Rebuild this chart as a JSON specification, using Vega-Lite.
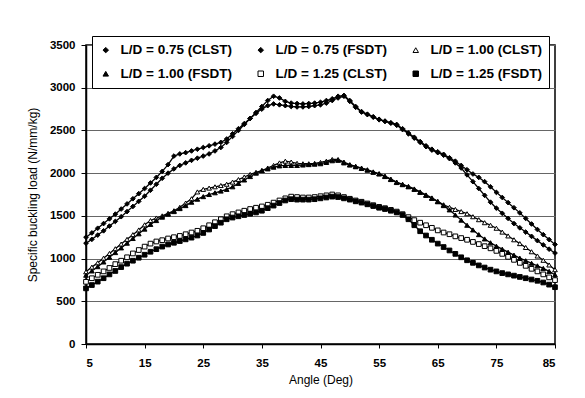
{
  "$schema": "https://vega.github.io/schema/vega-lite/v6.json",
  "width": 469,
  "height": 299,
  "autosize": "none",
  "padding": {"left": 86, "top": 45, "right": 30, "bottom": 54},
  "background": "white",
  "datasets": {
    "pts": [
      {"angle":5,"series":"L/D = 0.75 (CLST)","load":1250},{"angle":6,"series":"L/D = 0.75 (CLST)","load":1300},{"angle":7,"series":"L/D = 0.75 (CLST)","load":1355},{"angle":8,"series":"L/D = 0.75 (CLST)","load":1410},{"angle":9,"series":"L/D = 0.75 (CLST)","load":1465},{"angle":10,"series":"L/D = 0.75 (CLST)","load":1520},{"angle":11,"series":"L/D = 0.75 (CLST)","load":1580},{"angle":12,"series":"L/D = 0.75 (CLST)","load":1640},{"angle":13,"series":"L/D = 0.75 (CLST)","load":1700},{"angle":14,"series":"L/D = 0.75 (CLST)","load":1760},{"angle":15,"series":"L/D = 0.75 (CLST)","load":1820},{"angle":16,"series":"L/D = 0.75 (CLST)","load":1885},{"angle":17,"series":"L/D = 0.75 (CLST)","load":1950},{"angle":18,"series":"L/D = 0.75 (CLST)","load":2020},{"angle":19,"series":"L/D = 0.75 (CLST)","load":2100},{"angle":20,"series":"L/D = 0.75 (CLST)","load":2200},{"angle":21,"series":"L/D = 0.75 (CLST)","load":2225},{"angle":22,"series":"L/D = 0.75 (CLST)","load":2240},{"angle":23,"series":"L/D = 0.75 (CLST)","load":2260},{"angle":24,"series":"L/D = 0.75 (CLST)","load":2280},{"angle":25,"series":"L/D = 0.75 (CLST)","load":2300},{"angle":26,"series":"L/D = 0.75 (CLST)","load":2320},{"angle":27,"series":"L/D = 0.75 (CLST)","load":2340},{"angle":28,"series":"L/D = 0.75 (CLST)","load":2360},{"angle":29,"series":"L/D = 0.75 (CLST)","load":2400},{"angle":30,"series":"L/D = 0.75 (CLST)","load":2460},{"angle":31,"series":"L/D = 0.75 (CLST)","load":2520},{"angle":32,"series":"L/D = 0.75 (CLST)","load":2580},{"angle":33,"series":"L/D = 0.75 (CLST)","load":2640},{"angle":34,"series":"L/D = 0.75 (CLST)","load":2710},{"angle":35,"series":"L/D = 0.75 (CLST)","load":2780},{"angle":36,"series":"L/D = 0.75 (CLST)","load":2850},{"angle":37,"series":"L/D = 0.75 (CLST)","load":2900},{"angle":38,"series":"L/D = 0.75 (CLST)","load":2880},{"angle":39,"series":"L/D = 0.75 (CLST)","load":2840},{"angle":40,"series":"L/D = 0.75 (CLST)","load":2820},{"angle":41,"series":"L/D = 0.75 (CLST)","load":2815},{"angle":42,"series":"L/D = 0.75 (CLST)","load":2810},{"angle":43,"series":"L/D = 0.75 (CLST)","load":2815},{"angle":44,"series":"L/D = 0.75 (CLST)","load":2820},{"angle":45,"series":"L/D = 0.75 (CLST)","load":2830},{"angle":46,"series":"L/D = 0.75 (CLST)","load":2850},{"angle":47,"series":"L/D = 0.75 (CLST)","load":2870},{"angle":48,"series":"L/D = 0.75 (CLST)","load":2900},{"angle":49,"series":"L/D = 0.75 (CLST)","load":2910},{"angle":50,"series":"L/D = 0.75 (CLST)","load":2850},{"angle":51,"series":"L/D = 0.75 (CLST)","load":2780},{"angle":52,"series":"L/D = 0.75 (CLST)","load":2720},{"angle":53,"series":"L/D = 0.75 (CLST)","load":2690},{"angle":54,"series":"L/D = 0.75 (CLST)","load":2660},{"angle":55,"series":"L/D = 0.75 (CLST)","load":2630},{"angle":56,"series":"L/D = 0.75 (CLST)","load":2610},{"angle":57,"series":"L/D = 0.75 (CLST)","load":2590},{"angle":58,"series":"L/D = 0.75 (CLST)","load":2570},{"angle":59,"series":"L/D = 0.75 (CLST)","load":2520},{"angle":60,"series":"L/D = 0.75 (CLST)","load":2470},{"angle":61,"series":"L/D = 0.75 (CLST)","load":2420},{"angle":62,"series":"L/D = 0.75 (CLST)","load":2370},{"angle":63,"series":"L/D = 0.75 (CLST)","load":2320},{"angle":64,"series":"L/D = 0.75 (CLST)","load":2280},{"angle":65,"series":"L/D = 0.75 (CLST)","load":2250},{"angle":66,"series":"L/D = 0.75 (CLST)","load":2220},{"angle":67,"series":"L/D = 0.75 (CLST)","load":2180},{"angle":68,"series":"L/D = 0.75 (CLST)","load":2140},{"angle":69,"series":"L/D = 0.75 (CLST)","load":2090},{"angle":70,"series":"L/D = 0.75 (CLST)","load":2040},{"angle":71,"series":"L/D = 0.75 (CLST)","load":1990},{"angle":72,"series":"L/D = 0.75 (CLST)","load":1950},{"angle":73,"series":"L/D = 0.75 (CLST)","load":1900},{"angle":74,"series":"L/D = 0.75 (CLST)","load":1840},{"angle":75,"series":"L/D = 0.75 (CLST)","load":1775},{"angle":76,"series":"L/D = 0.75 (CLST)","load":1715},{"angle":77,"series":"L/D = 0.75 (CLST)","load":1655},{"angle":78,"series":"L/D = 0.75 (CLST)","load":1595},{"angle":79,"series":"L/D = 0.75 (CLST)","load":1535},{"angle":80,"series":"L/D = 0.75 (CLST)","load":1470},{"angle":81,"series":"L/D = 0.75 (CLST)","load":1405},{"angle":82,"series":"L/D = 0.75 (CLST)","load":1340},{"angle":83,"series":"L/D = 0.75 (CLST)","load":1280},{"angle":84,"series":"L/D = 0.75 (CLST)","load":1222},{"angle":85,"series":"L/D = 0.75 (CLST)","load":1166},

      {"angle":5,"series":"L/D = 0.75 (FSDT)","load":1180},{"angle":6,"series":"L/D = 0.75 (FSDT)","load":1225},{"angle":7,"series":"L/D = 0.75 (FSDT)","load":1275},{"angle":8,"series":"L/D = 0.75 (FSDT)","load":1325},{"angle":9,"series":"L/D = 0.75 (FSDT)","load":1380},{"angle":10,"series":"L/D = 0.75 (FSDT)","load":1435},{"angle":11,"series":"L/D = 0.75 (FSDT)","load":1490},{"angle":12,"series":"L/D = 0.75 (FSDT)","load":1550},{"angle":13,"series":"L/D = 0.75 (FSDT)","load":1610},{"angle":14,"series":"L/D = 0.75 (FSDT)","load":1670},{"angle":15,"series":"L/D = 0.75 (FSDT)","load":1730},{"angle":16,"series":"L/D = 0.75 (FSDT)","load":1800},{"angle":17,"series":"L/D = 0.75 (FSDT)","load":1870},{"angle":18,"series":"L/D = 0.75 (FSDT)","load":1940},{"angle":19,"series":"L/D = 0.75 (FSDT)","load":2000},{"angle":20,"series":"L/D = 0.75 (FSDT)","load":2050},{"angle":21,"series":"L/D = 0.75 (FSDT)","load":2090},{"angle":22,"series":"L/D = 0.75 (FSDT)","load":2120},{"angle":23,"series":"L/D = 0.75 (FSDT)","load":2150},{"angle":24,"series":"L/D = 0.75 (FSDT)","load":2175},{"angle":25,"series":"L/D = 0.75 (FSDT)","load":2200},{"angle":26,"series":"L/D = 0.75 (FSDT)","load":2225},{"angle":27,"series":"L/D = 0.75 (FSDT)","load":2260},{"angle":28,"series":"L/D = 0.75 (FSDT)","load":2300},{"angle":29,"series":"L/D = 0.75 (FSDT)","load":2360},{"angle":30,"series":"L/D = 0.75 (FSDT)","load":2430},{"angle":31,"series":"L/D = 0.75 (FSDT)","load":2500},{"angle":32,"series":"L/D = 0.75 (FSDT)","load":2570},{"angle":33,"series":"L/D = 0.75 (FSDT)","load":2640},{"angle":34,"series":"L/D = 0.75 (FSDT)","load":2700},{"angle":35,"series":"L/D = 0.75 (FSDT)","load":2750},{"angle":36,"series":"L/D = 0.75 (FSDT)","load":2790},{"angle":37,"series":"L/D = 0.75 (FSDT)","load":2810},{"angle":38,"series":"L/D = 0.75 (FSDT)","load":2800},{"angle":39,"series":"L/D = 0.75 (FSDT)","load":2790},{"angle":40,"series":"L/D = 0.75 (FSDT)","load":2780},{"angle":41,"series":"L/D = 0.75 (FSDT)","load":2775},{"angle":42,"series":"L/D = 0.75 (FSDT)","load":2775},{"angle":43,"series":"L/D = 0.75 (FSDT)","load":2780},{"angle":44,"series":"L/D = 0.75 (FSDT)","load":2790},{"angle":45,"series":"L/D = 0.75 (FSDT)","load":2800},{"angle":46,"series":"L/D = 0.75 (FSDT)","load":2820},{"angle":47,"series":"L/D = 0.75 (FSDT)","load":2850},{"angle":48,"series":"L/D = 0.75 (FSDT)","load":2880},{"angle":49,"series":"L/D = 0.75 (FSDT)","load":2900},{"angle":50,"series":"L/D = 0.75 (FSDT)","load":2840},{"angle":51,"series":"L/D = 0.75 (FSDT)","load":2770},{"angle":52,"series":"L/D = 0.75 (FSDT)","load":2715},{"angle":53,"series":"L/D = 0.75 (FSDT)","load":2685},{"angle":54,"series":"L/D = 0.75 (FSDT)","load":2655},{"angle":55,"series":"L/D = 0.75 (FSDT)","load":2625},{"angle":56,"series":"L/D = 0.75 (FSDT)","load":2605},{"angle":57,"series":"L/D = 0.75 (FSDT)","load":2585},{"angle":58,"series":"L/D = 0.75 (FSDT)","load":2560},{"angle":59,"series":"L/D = 0.75 (FSDT)","load":2510},{"angle":60,"series":"L/D = 0.75 (FSDT)","load":2460},{"angle":61,"series":"L/D = 0.75 (FSDT)","load":2410},{"angle":62,"series":"L/D = 0.75 (FSDT)","load":2360},{"angle":63,"series":"L/D = 0.75 (FSDT)","load":2310},{"angle":64,"series":"L/D = 0.75 (FSDT)","load":2270},{"angle":65,"series":"L/D = 0.75 (FSDT)","load":2240},{"angle":66,"series":"L/D = 0.75 (FSDT)","load":2210},{"angle":67,"series":"L/D = 0.75 (FSDT)","load":2170},{"angle":68,"series":"L/D = 0.75 (FSDT)","load":2120},{"angle":69,"series":"L/D = 0.75 (FSDT)","load":2060},{"angle":70,"series":"L/D = 0.75 (FSDT)","load":1980},{"angle":71,"series":"L/D = 0.75 (FSDT)","load":1900},{"angle":72,"series":"L/D = 0.75 (FSDT)","load":1820},{"angle":73,"series":"L/D = 0.75 (FSDT)","load":1740},{"angle":74,"series":"L/D = 0.75 (FSDT)","load":1660},{"angle":75,"series":"L/D = 0.75 (FSDT)","load":1590},{"angle":76,"series":"L/D = 0.75 (FSDT)","load":1530},{"angle":77,"series":"L/D = 0.75 (FSDT)","load":1470},{"angle":78,"series":"L/D = 0.75 (FSDT)","load":1410},{"angle":79,"series":"L/D = 0.75 (FSDT)","load":1360},{"angle":80,"series":"L/D = 0.75 (FSDT)","load":1310},{"angle":81,"series":"L/D = 0.75 (FSDT)","load":1260},{"angle":82,"series":"L/D = 0.75 (FSDT)","load":1210},{"angle":83,"series":"L/D = 0.75 (FSDT)","load":1160},{"angle":84,"series":"L/D = 0.75 (FSDT)","load":1110},{"angle":85,"series":"L/D = 0.75 (FSDT)","load":1065},

      {"angle":5,"series":"L/D = 1.00 (CLST)","load":845},{"angle":6,"series":"L/D = 1.00 (CLST)","load":900},{"angle":7,"series":"L/D = 1.00 (CLST)","load":950},{"angle":8,"series":"L/D = 1.00 (CLST)","load":1005},{"angle":9,"series":"L/D = 1.00 (CLST)","load":1060},{"angle":10,"series":"L/D = 1.00 (CLST)","load":1115},{"angle":11,"series":"L/D = 1.00 (CLST)","load":1170},{"angle":12,"series":"L/D = 1.00 (CLST)","load":1225},{"angle":13,"series":"L/D = 1.00 (CLST)","load":1280},{"angle":14,"series":"L/D = 1.00 (CLST)","load":1335},{"angle":15,"series":"L/D = 1.00 (CLST)","load":1395},{"angle":16,"series":"L/D = 1.00 (CLST)","load":1445},{"angle":17,"series":"L/D = 1.00 (CLST)","load":1475},{"angle":18,"series":"L/D = 1.00 (CLST)","load":1500},{"angle":19,"series":"L/D = 1.00 (CLST)","load":1530},{"angle":20,"series":"L/D = 1.00 (CLST)","load":1560},{"angle":21,"series":"L/D = 1.00 (CLST)","load":1600},{"angle":22,"series":"L/D = 1.00 (CLST)","load":1650},{"angle":23,"series":"L/D = 1.00 (CLST)","load":1700},{"angle":24,"series":"L/D = 1.00 (CLST)","load":1780},{"angle":25,"series":"L/D = 1.00 (CLST)","load":1810},{"angle":26,"series":"L/D = 1.00 (CLST)","load":1825},{"angle":27,"series":"L/D = 1.00 (CLST)","load":1840},{"angle":28,"series":"L/D = 1.00 (CLST)","load":1855},{"angle":29,"series":"L/D = 1.00 (CLST)","load":1870},{"angle":30,"series":"L/D = 1.00 (CLST)","load":1895},{"angle":31,"series":"L/D = 1.00 (CLST)","load":1925},{"angle":32,"series":"L/D = 1.00 (CLST)","load":1955},{"angle":33,"series":"L/D = 1.00 (CLST)","load":1985},{"angle":34,"series":"L/D = 1.00 (CLST)","load":2010},{"angle":35,"series":"L/D = 1.00 (CLST)","load":2030},{"angle":36,"series":"L/D = 1.00 (CLST)","load":2060},{"angle":37,"series":"L/D = 1.00 (CLST)","load":2090},{"angle":38,"series":"L/D = 1.00 (CLST)","load":2120},{"angle":39,"series":"L/D = 1.00 (CLST)","load":2140},{"angle":40,"series":"L/D = 1.00 (CLST)","load":2130},{"angle":41,"series":"L/D = 1.00 (CLST)","load":2115},{"angle":42,"series":"L/D = 1.00 (CLST)","load":2110},{"angle":43,"series":"L/D = 1.00 (CLST)","load":2110},{"angle":44,"series":"L/D = 1.00 (CLST)","load":2115},{"angle":45,"series":"L/D = 1.00 (CLST)","load":2125},{"angle":46,"series":"L/D = 1.00 (CLST)","load":2140},{"angle":47,"series":"L/D = 1.00 (CLST)","load":2160},{"angle":48,"series":"L/D = 1.00 (CLST)","load":2160},{"angle":49,"series":"L/D = 1.00 (CLST)","load":2130},{"angle":50,"series":"L/D = 1.00 (CLST)","load":2100},{"angle":51,"series":"L/D = 1.00 (CLST)","load":2080},{"angle":52,"series":"L/D = 1.00 (CLST)","load":2060},{"angle":53,"series":"L/D = 1.00 (CLST)","load":2040},{"angle":54,"series":"L/D = 1.00 (CLST)","load":2015},{"angle":55,"series":"L/D = 1.00 (CLST)","load":1995},{"angle":56,"series":"L/D = 1.00 (CLST)","load":1965},{"angle":57,"series":"L/D = 1.00 (CLST)","load":1930},{"angle":58,"series":"L/D = 1.00 (CLST)","load":1895},{"angle":59,"series":"L/D = 1.00 (CLST)","load":1870},{"angle":60,"series":"L/D = 1.00 (CLST)","load":1845},{"angle":61,"series":"L/D = 1.00 (CLST)","load":1815},{"angle":62,"series":"L/D = 1.00 (CLST)","load":1780},{"angle":63,"series":"L/D = 1.00 (CLST)","load":1745},{"angle":64,"series":"L/D = 1.00 (CLST)","load":1710},{"angle":65,"series":"L/D = 1.00 (CLST)","load":1670},{"angle":66,"series":"L/D = 1.00 (CLST)","load":1630},{"angle":67,"series":"L/D = 1.00 (CLST)","load":1600},{"angle":68,"series":"L/D = 1.00 (CLST)","load":1575},{"angle":69,"series":"L/D = 1.00 (CLST)","load":1550},{"angle":70,"series":"L/D = 1.00 (CLST)","load":1525},{"angle":71,"series":"L/D = 1.00 (CLST)","load":1490},{"angle":72,"series":"L/D = 1.00 (CLST)","load":1455},{"angle":73,"series":"L/D = 1.00 (CLST)","load":1420},{"angle":74,"series":"L/D = 1.00 (CLST)","load":1390},{"angle":75,"series":"L/D = 1.00 (CLST)","load":1355},{"angle":76,"series":"L/D = 1.00 (CLST)","load":1310},{"angle":77,"series":"L/D = 1.00 (CLST)","load":1265},{"angle":78,"series":"L/D = 1.00 (CLST)","load":1220},{"angle":79,"series":"L/D = 1.00 (CLST)","load":1175},{"angle":80,"series":"L/D = 1.00 (CLST)","load":1130},{"angle":81,"series":"L/D = 1.00 (CLST)","load":1080},{"angle":82,"series":"L/D = 1.00 (CLST)","load":1030},{"angle":83,"series":"L/D = 1.00 (CLST)","load":980},{"angle":84,"series":"L/D = 1.00 (CLST)","load":925},{"angle":85,"series":"L/D = 1.00 (CLST)","load":870},

      {"angle":5,"series":"L/D = 1.00 (FSDT)","load":805},{"angle":6,"series":"L/D = 1.00 (FSDT)","load":855},{"angle":7,"series":"L/D = 1.00 (FSDT)","load":905},{"angle":8,"series":"L/D = 1.00 (FSDT)","load":960},{"angle":9,"series":"L/D = 1.00 (FSDT)","load":1015},{"angle":10,"series":"L/D = 1.00 (FSDT)","load":1070},{"angle":11,"series":"L/D = 1.00 (FSDT)","load":1125},{"angle":12,"series":"L/D = 1.00 (FSDT)","load":1180},{"angle":13,"series":"L/D = 1.00 (FSDT)","load":1235},{"angle":14,"series":"L/D = 1.00 (FSDT)","load":1290},{"angle":15,"series":"L/D = 1.00 (FSDT)","load":1345},{"angle":16,"series":"L/D = 1.00 (FSDT)","load":1400},{"angle":17,"series":"L/D = 1.00 (FSDT)","load":1445},{"angle":18,"series":"L/D = 1.00 (FSDT)","load":1485},{"angle":19,"series":"L/D = 1.00 (FSDT)","load":1520},{"angle":20,"series":"L/D = 1.00 (FSDT)","load":1550},{"angle":21,"series":"L/D = 1.00 (FSDT)","load":1585},{"angle":22,"series":"L/D = 1.00 (FSDT)","load":1620},{"angle":23,"series":"L/D = 1.00 (FSDT)","load":1660},{"angle":24,"series":"L/D = 1.00 (FSDT)","load":1695},{"angle":25,"series":"L/D = 1.00 (FSDT)","load":1725},{"angle":26,"series":"L/D = 1.00 (FSDT)","load":1750},{"angle":27,"series":"L/D = 1.00 (FSDT)","load":1770},{"angle":28,"series":"L/D = 1.00 (FSDT)","load":1790},{"angle":29,"series":"L/D = 1.00 (FSDT)","load":1810},{"angle":30,"series":"L/D = 1.00 (FSDT)","load":1840},{"angle":31,"series":"L/D = 1.00 (FSDT)","load":1880},{"angle":32,"series":"L/D = 1.00 (FSDT)","load":1920},{"angle":33,"series":"L/D = 1.00 (FSDT)","load":1960},{"angle":34,"series":"L/D = 1.00 (FSDT)","load":2000},{"angle":35,"series":"L/D = 1.00 (FSDT)","load":2030},{"angle":36,"series":"L/D = 1.00 (FSDT)","load":2050},{"angle":37,"series":"L/D = 1.00 (FSDT)","load":2070},{"angle":38,"series":"L/D = 1.00 (FSDT)","load":2085},{"angle":39,"series":"L/D = 1.00 (FSDT)","load":2090},{"angle":40,"series":"L/D = 1.00 (FSDT)","load":2090},{"angle":41,"series":"L/D = 1.00 (FSDT)","load":2090},{"angle":42,"series":"L/D = 1.00 (FSDT)","load":2095},{"angle":43,"series":"L/D = 1.00 (FSDT)","load":2100},{"angle":44,"series":"L/D = 1.00 (FSDT)","load":2105},{"angle":45,"series":"L/D = 1.00 (FSDT)","load":2110},{"angle":46,"series":"L/D = 1.00 (FSDT)","load":2125},{"angle":47,"series":"L/D = 1.00 (FSDT)","load":2145},{"angle":48,"series":"L/D = 1.00 (FSDT)","load":2150},{"angle":49,"series":"L/D = 1.00 (FSDT)","load":2120},{"angle":50,"series":"L/D = 1.00 (FSDT)","load":2095},{"angle":51,"series":"L/D = 1.00 (FSDT)","load":2075},{"angle":52,"series":"L/D = 1.00 (FSDT)","load":2055},{"angle":53,"series":"L/D = 1.00 (FSDT)","load":2035},{"angle":54,"series":"L/D = 1.00 (FSDT)","load":2010},{"angle":55,"series":"L/D = 1.00 (FSDT)","load":1990},{"angle":56,"series":"L/D = 1.00 (FSDT)","load":1960},{"angle":57,"series":"L/D = 1.00 (FSDT)","load":1925},{"angle":58,"series":"L/D = 1.00 (FSDT)","load":1890},{"angle":59,"series":"L/D = 1.00 (FSDT)","load":1865},{"angle":60,"series":"L/D = 1.00 (FSDT)","load":1840},{"angle":61,"series":"L/D = 1.00 (FSDT)","load":1810},{"angle":62,"series":"L/D = 1.00 (FSDT)","load":1775},{"angle":63,"series":"L/D = 1.00 (FSDT)","load":1740},{"angle":64,"series":"L/D = 1.00 (FSDT)","load":1705},{"angle":65,"series":"L/D = 1.00 (FSDT)","load":1665},{"angle":66,"series":"L/D = 1.00 (FSDT)","load":1620},{"angle":67,"series":"L/D = 1.00 (FSDT)","load":1570},{"angle":68,"series":"L/D = 1.00 (FSDT)","load":1510},{"angle":69,"series":"L/D = 1.00 (FSDT)","load":1450},{"angle":70,"series":"L/D = 1.00 (FSDT)","load":1390},{"angle":71,"series":"L/D = 1.00 (FSDT)","load":1335},{"angle":72,"series":"L/D = 1.00 (FSDT)","load":1280},{"angle":73,"series":"L/D = 1.00 (FSDT)","load":1230},{"angle":74,"series":"L/D = 1.00 (FSDT)","load":1185},{"angle":75,"series":"L/D = 1.00 (FSDT)","load":1145},{"angle":76,"series":"L/D = 1.00 (FSDT)","load":1110},{"angle":77,"series":"L/D = 1.00 (FSDT)","load":1075},{"angle":78,"series":"L/D = 1.00 (FSDT)","load":1040},{"angle":79,"series":"L/D = 1.00 (FSDT)","load":1005},{"angle":80,"series":"L/D = 1.00 (FSDT)","load":975},{"angle":81,"series":"L/D = 1.00 (FSDT)","load":945},{"angle":82,"series":"L/D = 1.00 (FSDT)","load":915},{"angle":83,"series":"L/D = 1.00 (FSDT)","load":885},{"angle":84,"series":"L/D = 1.00 (FSDT)","load":850},{"angle":85,"series":"L/D = 1.00 (FSDT)","load":810},

      {"angle":5,"series":"L/D = 1.25 (CLST)","load":728},{"angle":6,"series":"L/D = 1.25 (CLST)","load":770},{"angle":7,"series":"L/D = 1.25 (CLST)","load":810},{"angle":8,"series":"L/D = 1.25 (CLST)","load":850},{"angle":9,"series":"L/D = 1.25 (CLST)","load":890},{"angle":10,"series":"L/D = 1.25 (CLST)","load":935},{"angle":11,"series":"L/D = 1.25 (CLST)","load":975},{"angle":12,"series":"L/D = 1.25 (CLST)","load":1015},{"angle":13,"series":"L/D = 1.25 (CLST)","load":1060},{"angle":14,"series":"L/D = 1.25 (CLST)","load":1100},{"angle":15,"series":"L/D = 1.25 (CLST)","load":1140},{"angle":16,"series":"L/D = 1.25 (CLST)","load":1175},{"angle":17,"series":"L/D = 1.25 (CLST)","load":1200},{"angle":18,"series":"L/D = 1.25 (CLST)","load":1215},{"angle":19,"series":"L/D = 1.25 (CLST)","load":1235},{"angle":20,"series":"L/D = 1.25 (CLST)","load":1250},{"angle":21,"series":"L/D = 1.25 (CLST)","load":1265},{"angle":22,"series":"L/D = 1.25 (CLST)","load":1285},{"angle":23,"series":"L/D = 1.25 (CLST)","load":1305},{"angle":24,"series":"L/D = 1.25 (CLST)","load":1325},{"angle":25,"series":"L/D = 1.25 (CLST)","load":1355},{"angle":26,"series":"L/D = 1.25 (CLST)","load":1390},{"angle":27,"series":"L/D = 1.25 (CLST)","load":1425},{"angle":28,"series":"L/D = 1.25 (CLST)","load":1460},{"angle":29,"series":"L/D = 1.25 (CLST)","load":1495},{"angle":30,"series":"L/D = 1.25 (CLST)","load":1520},{"angle":31,"series":"L/D = 1.25 (CLST)","load":1540},{"angle":32,"series":"L/D = 1.25 (CLST)","load":1560},{"angle":33,"series":"L/D = 1.25 (CLST)","load":1580},{"angle":34,"series":"L/D = 1.25 (CLST)","load":1595},{"angle":35,"series":"L/D = 1.25 (CLST)","load":1610},{"angle":36,"series":"L/D = 1.25 (CLST)","load":1630},{"angle":37,"series":"L/D = 1.25 (CLST)","load":1655},{"angle":38,"series":"L/D = 1.25 (CLST)","load":1680},{"angle":39,"series":"L/D = 1.25 (CLST)","load":1705},{"angle":40,"series":"L/D = 1.25 (CLST)","load":1725},{"angle":41,"series":"L/D = 1.25 (CLST)","load":1720},{"angle":42,"series":"L/D = 1.25 (CLST)","load":1715},{"angle":43,"series":"L/D = 1.25 (CLST)","load":1715},{"angle":44,"series":"L/D = 1.25 (CLST)","load":1720},{"angle":45,"series":"L/D = 1.25 (CLST)","load":1730},{"angle":46,"series":"L/D = 1.25 (CLST)","load":1740},{"angle":47,"series":"L/D = 1.25 (CLST)","load":1750},{"angle":48,"series":"L/D = 1.25 (CLST)","load":1740},{"angle":49,"series":"L/D = 1.25 (CLST)","load":1720},{"angle":50,"series":"L/D = 1.25 (CLST)","load":1700},{"angle":51,"series":"L/D = 1.25 (CLST)","load":1680},{"angle":52,"series":"L/D = 1.25 (CLST)","load":1665},{"angle":53,"series":"L/D = 1.25 (CLST)","load":1645},{"angle":54,"series":"L/D = 1.25 (CLST)","load":1625},{"angle":55,"series":"L/D = 1.25 (CLST)","load":1605},{"angle":56,"series":"L/D = 1.25 (CLST)","load":1590},{"angle":57,"series":"L/D = 1.25 (CLST)","load":1570},{"angle":58,"series":"L/D = 1.25 (CLST)","load":1550},{"angle":59,"series":"L/D = 1.25 (CLST)","load":1520},{"angle":60,"series":"L/D = 1.25 (CLST)","load":1485},{"angle":61,"series":"L/D = 1.25 (CLST)","load":1450},{"angle":62,"series":"L/D = 1.25 (CLST)","load":1420},{"angle":63,"series":"L/D = 1.25 (CLST)","load":1390},{"angle":64,"series":"L/D = 1.25 (CLST)","load":1360},{"angle":65,"series":"L/D = 1.25 (CLST)","load":1330},{"angle":66,"series":"L/D = 1.25 (CLST)","load":1305},{"angle":67,"series":"L/D = 1.25 (CLST)","load":1285},{"angle":68,"series":"L/D = 1.25 (CLST)","load":1260},{"angle":69,"series":"L/D = 1.25 (CLST)","load":1240},{"angle":70,"series":"L/D = 1.25 (CLST)","load":1220},{"angle":71,"series":"L/D = 1.25 (CLST)","load":1195},{"angle":72,"series":"L/D = 1.25 (CLST)","load":1170},{"angle":73,"series":"L/D = 1.25 (CLST)","load":1145},{"angle":74,"series":"L/D = 1.25 (CLST)","load":1120},{"angle":75,"series":"L/D = 1.25 (CLST)","load":1090},{"angle":76,"series":"L/D = 1.25 (CLST)","load":1055},{"angle":77,"series":"L/D = 1.25 (CLST)","load":1020},{"angle":78,"series":"L/D = 1.25 (CLST)","load":985},{"angle":79,"series":"L/D = 1.25 (CLST)","load":950},{"angle":80,"series":"L/D = 1.25 (CLST)","load":915},{"angle":81,"series":"L/D = 1.25 (CLST)","load":880},{"angle":82,"series":"L/D = 1.25 (CLST)","load":850},{"angle":83,"series":"L/D = 1.25 (CLST)","load":815},{"angle":84,"series":"L/D = 1.25 (CLST)","load":780},{"angle":85,"series":"L/D = 1.25 (CLST)","load":748},

      {"angle":5,"series":"L/D = 1.25 (FSDT)","load":651},{"angle":6,"series":"L/D = 1.25 (FSDT)","load":690},{"angle":7,"series":"L/D = 1.25 (FSDT)","load":730},{"angle":8,"series":"L/D = 1.25 (FSDT)","load":770},{"angle":9,"series":"L/D = 1.25 (FSDT)","load":815},{"angle":10,"series":"L/D = 1.25 (FSDT)","load":855},{"angle":11,"series":"L/D = 1.25 (FSDT)","load":900},{"angle":12,"series":"L/D = 1.25 (FSDT)","load":940},{"angle":13,"series":"L/D = 1.25 (FSDT)","load":975},{"angle":14,"series":"L/D = 1.25 (FSDT)","load":1010},{"angle":15,"series":"L/D = 1.25 (FSDT)","load":1045},{"angle":16,"series":"L/D = 1.25 (FSDT)","load":1080},{"angle":17,"series":"L/D = 1.25 (FSDT)","load":1110},{"angle":18,"series":"L/D = 1.25 (FSDT)","load":1140},{"angle":19,"series":"L/D = 1.25 (FSDT)","load":1165},{"angle":20,"series":"L/D = 1.25 (FSDT)","load":1185},{"angle":21,"series":"L/D = 1.25 (FSDT)","load":1205},{"angle":22,"series":"L/D = 1.25 (FSDT)","load":1225},{"angle":23,"series":"L/D = 1.25 (FSDT)","load":1245},{"angle":24,"series":"L/D = 1.25 (FSDT)","load":1270},{"angle":25,"series":"L/D = 1.25 (FSDT)","load":1300},{"angle":26,"series":"L/D = 1.25 (FSDT)","load":1340},{"angle":27,"series":"L/D = 1.25 (FSDT)","load":1380},{"angle":28,"series":"L/D = 1.25 (FSDT)","load":1420},{"angle":29,"series":"L/D = 1.25 (FSDT)","load":1460},{"angle":30,"series":"L/D = 1.25 (FSDT)","load":1480},{"angle":31,"series":"L/D = 1.25 (FSDT)","load":1495},{"angle":32,"series":"L/D = 1.25 (FSDT)","load":1510},{"angle":33,"series":"L/D = 1.25 (FSDT)","load":1525},{"angle":34,"series":"L/D = 1.25 (FSDT)","load":1540},{"angle":35,"series":"L/D = 1.25 (FSDT)","load":1560},{"angle":36,"series":"L/D = 1.25 (FSDT)","load":1590},{"angle":37,"series":"L/D = 1.25 (FSDT)","load":1620},{"angle":38,"series":"L/D = 1.25 (FSDT)","load":1650},{"angle":39,"series":"L/D = 1.25 (FSDT)","load":1680},{"angle":40,"series":"L/D = 1.25 (FSDT)","load":1695},{"angle":41,"series":"L/D = 1.25 (FSDT)","load":1690},{"angle":42,"series":"L/D = 1.25 (FSDT)","load":1690},{"angle":43,"series":"L/D = 1.25 (FSDT)","load":1690},{"angle":44,"series":"L/D = 1.25 (FSDT)","load":1695},{"angle":45,"series":"L/D = 1.25 (FSDT)","load":1705},{"angle":46,"series":"L/D = 1.25 (FSDT)","load":1715},{"angle":47,"series":"L/D = 1.25 (FSDT)","load":1725},{"angle":48,"series":"L/D = 1.25 (FSDT)","load":1720},{"angle":49,"series":"L/D = 1.25 (FSDT)","load":1705},{"angle":50,"series":"L/D = 1.25 (FSDT)","load":1690},{"angle":51,"series":"L/D = 1.25 (FSDT)","load":1670},{"angle":52,"series":"L/D = 1.25 (FSDT)","load":1655},{"angle":53,"series":"L/D = 1.25 (FSDT)","load":1635},{"angle":54,"series":"L/D = 1.25 (FSDT)","load":1615},{"angle":55,"series":"L/D = 1.25 (FSDT)","load":1595},{"angle":56,"series":"L/D = 1.25 (FSDT)","load":1580},{"angle":57,"series":"L/D = 1.25 (FSDT)","load":1560},{"angle":58,"series":"L/D = 1.25 (FSDT)","load":1540},{"angle":59,"series":"L/D = 1.25 (FSDT)","load":1510},{"angle":60,"series":"L/D = 1.25 (FSDT)","load":1460},{"angle":61,"series":"L/D = 1.25 (FSDT)","load":1390},{"angle":62,"series":"L/D = 1.25 (FSDT)","load":1320},{"angle":63,"series":"L/D = 1.25 (FSDT)","load":1270},{"angle":64,"series":"L/D = 1.25 (FSDT)","load":1220},{"angle":65,"series":"L/D = 1.25 (FSDT)","load":1175},{"angle":66,"series":"L/D = 1.25 (FSDT)","load":1135},{"angle":67,"series":"L/D = 1.25 (FSDT)","load":1095},{"angle":68,"series":"L/D = 1.25 (FSDT)","load":1055},{"angle":69,"series":"L/D = 1.25 (FSDT)","load":1015},{"angle":70,"series":"L/D = 1.25 (FSDT)","load":980},{"angle":71,"series":"L/D = 1.25 (FSDT)","load":950},{"angle":72,"series":"L/D = 1.25 (FSDT)","load":920},{"angle":73,"series":"L/D = 1.25 (FSDT)","load":895},{"angle":74,"series":"L/D = 1.25 (FSDT)","load":870},{"angle":75,"series":"L/D = 1.25 (FSDT)","load":850},{"angle":76,"series":"L/D = 1.25 (FSDT)","load":830},{"angle":77,"series":"L/D = 1.25 (FSDT)","load":815},{"angle":78,"series":"L/D = 1.25 (FSDT)","load":800},{"angle":79,"series":"L/D = 1.25 (FSDT)","load":785},{"angle":80,"series":"L/D = 1.25 (FSDT)","load":770},{"angle":81,"series":"L/D = 1.25 (FSDT)","load":755},{"angle":82,"series":"L/D = 1.25 (FSDT)","load":740},{"angle":83,"series":"L/D = 1.25 (FSDT)","load":720},{"angle":84,"series":"L/D = 1.25 (FSDT)","load":695},{"angle":85,"series":"L/D = 1.25 (FSDT)","load":665}
    ]
  },
  "data": {"name": "pts"},
  "encoding": {
    "x": {
      "field": "angle", "type": "quantitative",
      "scale": {"domain": [5, 85], "nice": false, "zero": false},
      "axis": {"values": [5, 15, 25, 35, 45, 55, 65, 75, 85], "title": "Angle (Deg)", "grid": false, "tickSize": 4, "labelPadding": 9, "titlePadding": 6}
    },
    "y": {
      "field": "load", "type": "quantitative",
      "scale": {"domain": [0, 3500], "nice": false},
      "axis": {"values": [0, 500, 1000, 1500, 2000, 2500, 3000, 3500], "format": "d", "title": "Specific buckling load (N/mm/kg)", "grid": true, "tickSize": 5, "labelPadding": 6, "titlePadding": 10}
    }
  },
  "layer": [
    {
      "mark": {"type": "line", "color": "black", "strokeWidth": 1.3},
      "encoding": {"detail": {"field": "series"}}
    },
    {
      "mark": {"type": "point", "filled": true, "strokeWidth": 1, "size": 22, "opacity": 1},
      "encoding": {
        "shape": {
          "field": "series", "type": "nominal",
          "scale": {
            "domain": ["L/D = 0.75 (CLST)", "L/D = 0.75 (FSDT)", "L/D = 1.00 (CLST)", "L/D = 1.00 (FSDT)", "L/D = 1.25 (CLST)", "L/D = 1.25 (FSDT)"],
            "range": ["diamond", "diamond", "triangle-up", "triangle-up", "square", "square"]
          },
          "legend": {
            "title": null, "orient": "none", "legendX": 6, "legendY": -9, "columns": 3,
            "direction": "horizontal",
            "strokeColor": "black", "fillColor": "white", "padding": 7,
            "columnPadding": 22, "rowPadding": 9,
            "labelFont": "Liberation Sans", "labelFontSize": 13.5, "labelFontWeight": "bold", "labelColor": "black",
            "symbolSize": 30, "symbolStrokeWidth": 1, "labelOffset": 8
          }
        },
        "fill": {
          "field": "series", "type": "nominal",
          "scale": {
            "domain": ["L/D = 0.75 (CLST)", "L/D = 0.75 (FSDT)", "L/D = 1.00 (CLST)", "L/D = 1.00 (FSDT)", "L/D = 1.25 (CLST)", "L/D = 1.25 (FSDT)"],
            "range": ["black", "black", "white", "black", "white", "black"]
          }
        },
        "stroke": {
          "field": "series", "type": "nominal",
          "scale": {
            "domain": ["L/D = 0.75 (CLST)", "L/D = 0.75 (FSDT)", "L/D = 1.00 (CLST)", "L/D = 1.00 (FSDT)", "L/D = 1.25 (CLST)", "L/D = 1.25 (FSDT)"],
            "range": ["black", "black", "black", "black", "black", "black"]
          }
        }
      }
    }
  ],
  "config": {
    "font": "Liberation Sans",
    "view": {"stroke": "black", "strokeWidth": 1.5},
    "axis": {
      "labelFont": "Liberation Sans", "labelFontSize": 11.5, "labelFontWeight": "bold", "labelColor": "black",
      "titleFont": "Liberation Sans", "titleFontSize": 12, "titleFontWeight": "normal", "titleColor": "black",
      "domainColor": "black", "domainWidth": 1.5, "tickColor": "black", "tickWidth": 1,
      "gridColor": "#666666", "gridWidth": 1
    }
  }
}
